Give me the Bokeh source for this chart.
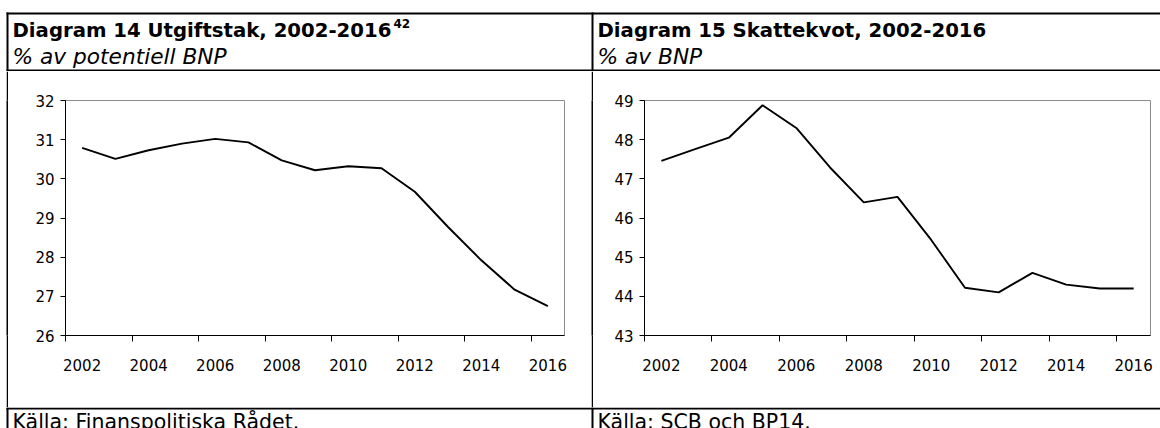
from bokeh.plotting import figure
from bokeh.layouts import column, row
from bokeh.models import Range1d, FixedTicker
from bokeh.embed import file_html
from bokeh.resources import INLINE
from bokeh.core.properties import value

# ---------------- data ----------------
years = [2002, 2003, 2004, 2005, 2006, 2007, 2008, 2009, 2010, 2011, 2012, 2013, 2014, 2015, 2016]
utgiftstak = [30.79, 30.51, 30.73, 30.90, 31.02, 30.93, 30.47, 30.22, 30.32, 30.27, 29.67, 28.77, 27.92, 27.17, 26.75]
skattekvot = [47.46, 47.76, 48.05, 48.88, 48.30, 47.29, 46.40, 46.54, 45.44, 44.22, 44.10, 44.60, 44.30, 44.20, 44.20]
x_tick_labels = [2002, 2004, 2006, 2008, 2010, 2012, 2014, 2016]
y1_ticks = [26, 27, 28, 29, 30, 31, 32]
y2_ticks = [43, 44, 45, 46, 47, 48, 49]

title_left = "Diagram 14 Utgiftstak, 2002-2016"
title_left_sup = "42"
subtitle_left = "% av potentiell BNP"
source_left = "Källa: Finanspolitiska Rådet."
title_right = "Diagram 15 Skattekvot, 2002-2016"
subtitle_right = "% av BNP"
source_right = "Källa: SCB och BP14."

FONT = "DejaVu Sans"
W = 1160
LEFT_X = 7     # centre of left table border
DIV_X = 592    # centre of middle table border
GAP_L = 6
LINE = 2
CELL_L = 583
CELL_R = 567


def blank(width, height, bg="white"):
    p = figure(width=width, height=height, x_range=Range1d(0, width), y_range=Range1d(height, 0),
               min_border=0, toolbar_location=None, output_backend="svg",
               x_axis_location=None, y_axis_location=None, outline_line_color=None,
               background_fill_color=bg, border_fill_color=bg)
    p.grid.visible = False
    return p


# ---------------- header (one canvas, rules drawn inside) ----------------
HEAD_H = 71
head = blank(W, HEAD_H)
head.segment(x0=[GAP_L, LEFT_X, DIV_X, GAP_L], y0=[13, 12, 12, 70],
             x1=[W, LEFT_X, DIV_X, W], y1=[13, HEAD_H, HEAD_H, 70],
             line_color="black", line_width=2)
head.text(x=[12, 597], y=[29.5, 29.5], text=[title_left, title_right],
          text_font=value(FONT), text_font_size=value("19.7px"), text_font_style=value("bold"),
          text_color="black", text_baseline="alphabetic", text_align="left")
head.text(x=[393], y=[22.5], text=[title_left_sup],
          text_font=value(FONT), text_font_size=value("12px"), text_font_style=value("bold"),
          text_color="black", text_baseline="alphabetic", text_align="left")
head.text(x=[12, 597], y=[56, 56], text=[subtitle_left, subtitle_right],
          text_font=value(FONT), text_font_size=value("21.7px"), text_font_style=value("italic"),
          text_color="black", text_baseline="alphabetic", text_align="left")


# ---------------- chart cells ----------------
CHART_H = 336


def chart(width, values, yticks, mb_left, mb_right, mb_top, mb_bottom):
    p = figure(width=width, height=CHART_H, toolbar_location=None, output_backend="svg",
               x_range=Range1d(years[0] - 0.5, years[-1] + 0.5),
               y_range=Range1d(yticks[0], yticks[-1]),
               min_border_left=mb_left, min_border_right=mb_right,
               min_border_top=mb_top, min_border_bottom=mb_bottom,
               background_fill_color="white", border_fill_color="white",
               outline_line_color="#8c8c8c", outline_line_width=1)
    p.grid.visible = False
    p.line(years, values, line_color="black", line_width=1.9)

    xa = p.xaxis[0]
    xa.ticker = FixedTicker(ticks=x_tick_labels, minor_ticks=[t - 0.5 for t in x_tick_labels])
    xa.major_tick_out = 0
    xa.major_tick_in = 0
    xa.minor_tick_out = 6
    xa.minor_tick_in = 0
    xa.minor_tick_line_color = "black"
    xa.axis_line_color = "black"
    xa.major_label_standoff = 17
    xa.major_label_text_font = FONT
    xa.major_label_text_font_size = "15px"
    xa.major_label_text_color = "black"

    ya = p.yaxis[0]
    ya.ticker = FixedTicker(ticks=yticks, minor_ticks=[])
    ya.major_tick_out = 5
    ya.major_tick_in = 0
    ya.minor_tick_out = 0
    ya.minor_tick_in = 0
    ya.major_tick_line_color = "black"
    ya.axis_line_color = "black"
    ya.major_label_standoff = 6
    ya.major_label_text_font = FONT
    ya.major_label_text_font_size = "15px"
    ya.major_label_text_color = "black"
    return p


c1 = chart(CELL_L, utgiftstak, y1_ticks, 57, 27, 24, 72)
c2 = chart(CELL_R, skattekvot, y2_ticks, 51, 10, 29, 71)
mid = row(blank(GAP_L, CHART_H), blank(LINE, CHART_H, bg="black"), c1,
          blank(LINE, CHART_H, bg="black"), c2)

# ---------------- footer (one canvas, rules drawn inside) ----------------
FOOT_H = 21
foot = blank(W, FOOT_H)
foot.segment(x0=[GAP_L, LEFT_X, DIV_X], y0=[1, 0, 0], x1=[W, LEFT_X, DIV_X], y1=[1, FOOT_H, FOOT_H],
             line_color="black", line_width=2)
foot.text(x=[12, 597], y=[14.5, 14.5], text=[source_left, source_right],
          text_font=value(FONT), text_font_size=value("20.5px"),
          text_color="black", text_baseline="alphabetic", text_align="left")

layout = column(head, mid, foot)

open("out.html", "w").write(file_html(layout, INLINE))
